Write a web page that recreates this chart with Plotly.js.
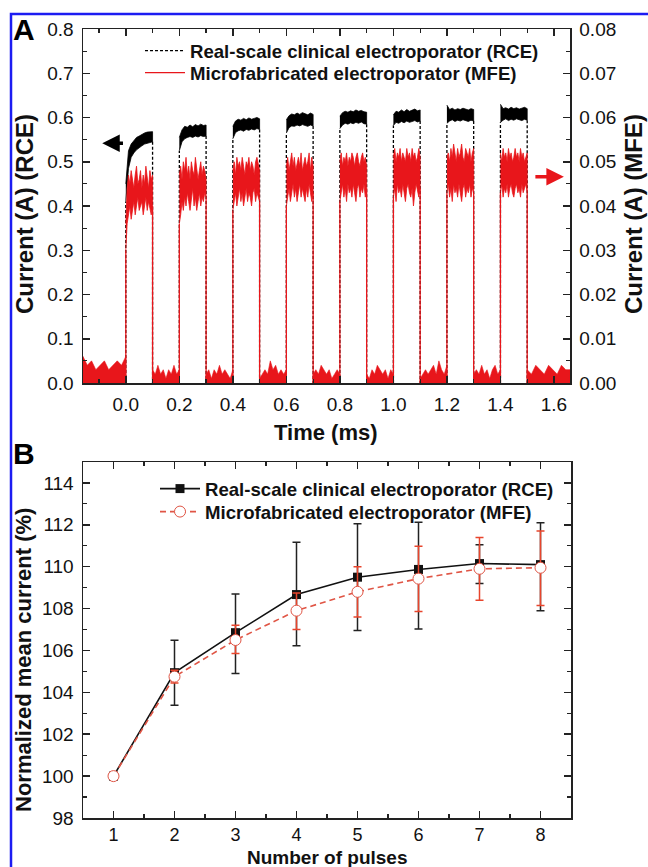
<!DOCTYPE html>
<html><head><meta charset="utf-8">
<script src="https://cdn.plot.ly/plotly-3.0.1.min.js"></script>
<style>html,body{margin:0;padding:0;background:#fff}#chart{width:648px;height:867px}</style>
</head><body><div id="chart"></div>
<script>
// ---------- Panel A : current traces ----------
const pulseStarts = [0, 0.2, 0.4, 0.6, 0.8, 1.0, 1.2, 1.4];   // ms
const pulseWidth = 0.1;                                       // ms
const rceOffsets = [0, 0.01, 0.02, 0.03, 0.04, 0.05, 0.06, 0.07, 0.08, 0.09, 0.1];
const rceHi = [
  [0.45,0.525,0.54,0.548,0.555,0.558,0.562,0.565,0.567,0.568,0.568],
  [0.555,0.572,0.580,0.578,0.583,0.579,0.584,0.581,0.585,0.582,0.583],
  [0.580,0.592,0.596,0.594,0.598,0.595,0.599,0.596,0.598,0.600,0.597],
  [0.595,0.604,0.608,0.606,0.610,0.607,0.611,0.608,0.606,0.610,0.607],
  [0.603,0.611,0.614,0.612,0.615,0.613,0.617,0.614,0.616,0.613,0.612],
  [0.606,0.614,0.612,0.617,0.613,0.618,0.614,0.617,0.619,0.615,0.617],
  [0.628,0.618,0.621,0.617,0.620,0.618,0.621,0.619,0.617,0.620,0.618],
  [0.630,0.620,0.622,0.619,0.623,0.620,0.622,0.619,0.621,0.623,0.620]
];
const rceLo = [
  [0.41,0.485,0.51,0.52,0.527,0.532,0.536,0.54,0.542,0.543,0.545],
  [0.525,0.545,0.552,0.555,0.557,0.555,0.558,0.556,0.559,0.557,0.558],
  [0.552,0.566,0.570,0.572,0.569,0.573,0.571,0.574,0.572,0.575,0.573],
  [0.565,0.577,0.581,0.580,0.583,0.581,0.584,0.582,0.580,0.583,0.581],
  [0.575,0.583,0.587,0.585,0.588,0.586,0.589,0.587,0.590,0.586,0.585],
  [0.582,0.589,0.587,0.591,0.588,0.592,0.589,0.591,0.593,0.590,0.592],
  [0.587,0.592,0.595,0.591,0.594,0.592,0.595,0.593,0.591,0.594,0.592],
  [0.589,0.594,0.597,0.593,0.596,0.594,0.597,0.595,0.593,0.596,0.594]
];
const mfeOffsets = [0,0.005,0.01,0.015,0.02,0.025,0.03,0.035,0.04,0.045,0.05,0.055,0.06,0.065,0.07,0.075,0.08,0.085,0.09,0.095,0.1];
const mfeHi = [
  [0.036,0.044,0.047,0.045,0.048,0.046,0.044,0.047,0.049,0.045,0.046,0.048,0.044,0.047,0.045,0.049,0.046,0.044,0.048,0.046,0.047],
  [0.047,0.049,0.046,0.050,0.048,0.051,0.047,0.049,0.046,0.050,0.048,0.047,0.051,0.049,0.046,0.048,0.050,0.047,0.049,0.048,0.046],
  [0.048,0.050,0.047,0.051,0.049,0.050,0.048,0.051,0.049,0.047,0.050,0.049,0.051,0.048,0.050,0.049,0.047,0.050,0.051,0.049,0.048],
  [0.049,0.051,0.048,0.050,0.052,0.049,0.051,0.048,0.050,0.051,0.049,0.052,0.048,0.050,0.051,0.049,0.050,0.052,0.048,0.051,0.049],
  [0.050,0.052,0.049,0.051,0.050,0.052,0.049,0.051,0.050,0.052,0.051,0.049,0.051,0.052,0.050,0.049,0.051,0.052,0.050,0.051,0.049],
  [0.051,0.053,0.050,0.052,0.051,0.053,0.050,0.052,0.051,0.050,0.053,0.051,0.052,0.050,0.053,0.051,0.052,0.050,0.051,0.053,0.051],
  [0.051,0.052,0.050,0.053,0.051,0.054,0.052,0.050,0.053,0.051,0.052,0.054,0.051,0.050,0.053,0.052,0.051,0.053,0.050,0.052,0.053],
  [0.052,0.050,0.053,0.051,0.052,0.050,0.053,0.051,0.052,0.050,0.051,0.053,0.051,0.052,0.050,0.053,0.051,0.052,0.050,0.051,0.052]
];
const mfeLo = [
  [0.030,0.036,0.038,0.040,0.037,0.039,0.041,0.038,0.040,0.042,0.039,0.040,0.041,0.038,0.040,0.042,0.039,0.041,0.040,0.038,0.040],
  [0.036,0.038,0.041,0.039,0.042,0.040,0.043,0.041,0.039,0.042,0.044,0.040,0.042,0.039,0.041,0.043,0.040,0.042,0.041,0.043,0.042],
  [0.039,0.041,0.043,0.040,0.042,0.044,0.041,0.043,0.040,0.042,0.044,0.041,0.043,0.042,0.040,0.043,0.044,0.041,0.043,0.042,0.041],
  [0.040,0.042,0.044,0.041,0.043,0.045,0.042,0.044,0.041,0.043,0.045,0.042,0.044,0.043,0.041,0.044,0.042,0.045,0.043,0.041,0.043],
  [0.041,0.043,0.045,0.042,0.044,0.041,0.045,0.043,0.044,0.042,0.045,0.043,0.041,0.044,0.045,0.042,0.044,0.043,0.045,0.042,0.044],
  [0.042,0.044,0.041,0.045,0.043,0.044,0.042,0.045,0.043,0.041,0.044,0.045,0.043,0.042,0.044,0.040,0.043,0.045,0.044,0.042,0.044],
  [0.043,0.045,0.042,0.044,0.041,0.045,0.043,0.044,0.042,0.045,0.043,0.041,0.044,0.045,0.042,0.044,0.043,0.045,0.042,0.044,0.043],
  [0.043,0.045,0.042,0.044,0.043,0.045,0.042,0.044,0.045,0.043,0.042,0.044,0.045,0.043,0.044,0.042,0.045,0.043,0.044,0.045,0.043]
];
const gapStarts = [-0.16, 0.1, 0.3, 0.5, 0.7, 0.9, 1.1, 1.3, 1.5];
const gapEnds   = [0, 0.2, 0.4, 0.6, 0.8, 1.0, 1.2, 1.4, 1.66];
const mfeBaseHi = [
  [0.006,0.004,0.005,0.003,0.004,0.005,0.003,0.004,0.005,0.004,0.006],
  [0.003,0.002,0.004,0.002,0.003,0.001,0.003,0.002,0.004,0.002,0.003],
  [0.002,0.003,0.001,0.003,0.002,0.004,0.002,0.003,0.002,0.001,0.003],
  [0.001,0.002,0.003,0.002,0.005,0.003,0.004,0.002,0.003,0.002,0.003],
  [0.002,0.003,0.002,0.004,0.003,0.002,0.003,0.001,0.002,0.003,0.002],
  [0.002,0.001,0.003,0.002,0.004,0.003,0.002,0.003,0.001,0.003,0.002],
  [0.001,0.002,0.003,0.002,0.003,0.004,0.002,0.005,0.003,0.002,0.004],
  [0.002,0.003,0.002,0.004,0.002,0.003,0.001,0.003,0.004,0.002,0.003],
  [0.003,0.002,0.004,0.003,0.002,0.004,0.003,0.002,0.004,0.003,0.003]
];
const rceArrowLevel = 0.542;   // A, left axis
const mfeArrowLevel = 0.0466;  // A, right axis

// ---------- Panel B : normalized mean current ----------
const pulseNumber = [1, 2, 3, 4, 5, 6, 7, 8];
const rceMean = [100, 104.94, 106.85, 108.67, 109.5, 109.87, 110.15, 110.1];
const rceErrPlus = [null, 1.55, 1.85, 2.5, 2.55, 2.25, 0.9, 2.0];
const rceErrMinus = [null, 1.55, 1.95, 2.45, 2.55, 2.85, 0.95, 2.2];
const mfeMean = [100, 104.75, 106.5, 107.9, 108.8, 109.43, 109.9, 109.95];
const mfeErrPlus = [null, 0.3, 0.7, 0.85, 1.2, 1.55, 1.5, 1.75];
const mfeErrMinus = [null, 0.3, 0.65, 0.9, 1.2, 1.57, 1.5, 1.8];

// ---------- builders ----------
function bandPolygons(starts, offsets, hi, lo) {
  const x = [], y = [];
  starts.forEach((s, i) => {
    offsets.forEach((o, k) => { x.push(s + o); y.push(hi[i][k]); });
    for (let k = offsets.length - 1; k >= 0; k--) { x.push(s + offsets[k]); y.push(lo[i][k]); }
    x.push(null); y.push(null);
  });
  return {x, y};
}
function edgeLines(starts, width, lo) {
  const x = [], y = [];
  starts.forEach((s, i) => {
    const l = lo[i];
    x.push(s, s, null, s + width, s + width, null);
    y.push(0, l[0], null, l[l.length - 1], 0, null);
  });
  return {x, y};
}
function baselinePolygons(gs, ge, hi) {
  const x = [], y = [];
  gs.forEach((a, i) => {
    const b = ge[i], n = hi[i].length;
    x.push(a); y.push(0);
    hi[i].forEach((v, k) => { x.push(a + (b - a) * k / (n - 1)); y.push(v); });
    x.push(b); y.push(0); x.push(null); y.push(null);
  });
  return {x, y};
}

const RED = '#e8161b';
const FONT = 'Liberation Sans, Arial, Helvetica, sans-serif';
const rceBand = bandPolygons(pulseStarts, rceOffsets, rceHi, rceLo);
const rceEdge = edgeLines(pulseStarts, pulseWidth, rceLo);
const mfeBand = bandPolygons(pulseStarts, mfeOffsets, mfeHi, mfeLo);
const mfeEdge = edgeLines(pulseStarts, pulseWidth, mfeLo);
const mfeBase = baselinePolygons(gapStarts, gapEnds, mfeBaseHi);

const traces = [
  {x: rceBand.x, y: rceBand.y, xaxis: 'x', yaxis: 'y', mode: 'lines', fill: 'toself',
   fillcolor: '#000', line: {color: '#000', width: 0.8}, showlegend: false, hoverinfo: 'skip'},
  {x: rceEdge.x, y: rceEdge.y, xaxis: 'x', yaxis: 'y', mode: 'lines',
   line: {color: '#000', width: 1.3, dash: '3px,2px'}, name: 'Real-scale clinical electroporator (RCE)',
   legend: 'legend'},
  {x: mfeBase.x, y: mfeBase.y, xaxis: 'x', yaxis: 'y2', mode: 'lines', fill: 'toself',
   fillcolor: RED, line: {color: RED, width: 0.6}, showlegend: false, hoverinfo: 'skip'},
  {x: mfeBand.x, y: mfeBand.y, xaxis: 'x', yaxis: 'y2', mode: 'lines', fill: 'toself',
   fillcolor: RED, line: {color: RED, width: 0.8}, showlegend: false, hoverinfo: 'skip'},
  {x: mfeEdge.x, y: mfeEdge.y, xaxis: 'x', yaxis: 'y2', mode: 'lines',
   line: {color: RED, width: 1.3}, name: 'Microfabricated electroporator (MFE)', legend: 'legend2'},
  {x: pulseNumber, y: rceMean, xaxis: 'x2', yaxis: 'y3', mode: 'lines+markers',
   name: 'Real-scale clinical electroporator (RCE)', legend: 'legend3',
   line: {color: '#111', width: 1.6}, marker: {symbol: 'square', size: 9, color: '#111'},
   error_y: {type: 'data', symmetric: false, array: rceErrPlus, arrayminus: rceErrMinus,
             color: '#222', thickness: 1.5, width: 4}},
  {x: pulseNumber, y: mfeMean, xaxis: 'x2', yaxis: 'y3', mode: 'lines+markers',
   name: 'Microfabricated electroporator (MFE)', legend: 'legend4',
   line: {color: '#e05545', width: 1.6, dash: '6px,4px'},
   marker: {symbol: 'circle', size: 11, color: '#fff', line: {color: '#e05545', width: 1}},
   error_y: {type: 'data', symmetric: false, array: mfeErrPlus, arrayminus: mfeErrMinus,
             color: '#e8452c', thickness: 1.5, width: 4}}
];

const W = 648, H = 867;
const px = v => v / W, py = v => 1 - v / H;
const axisCommon = {
  showline: true, linecolor: '#222', linewidth: 1.5, ticks: 'inside', ticklen: 7, tickwidth: 1.5,
  tickcolor: '#222', showgrid: false, zeroline: false, tickfont: {family: FONT, size: 19, color: '#111'},
  ticklabelstandoff: 4
};
const minorCommon = {ticks: 'inside', ticklen: 4, tickwidth: 1.2, tickcolor: '#222', showgrid: false};
const legendFont = {family: FONT, size: 18.6, weight: 'bold', color: '#111'};
const mkLegend = (xl, yc) => ({x: px(xl), xanchor: 'left', y: py(yc), yanchor: 'middle',
  bgcolor: 'rgba(0,0,0,0)', itemwidth: 40, font: legendFont});

const layout = {
  width: W, height: H, margin: {l: 0, r: 0, t: 0, b: 0},
  paper_bgcolor: '#fff', plot_bgcolor: '#fff', font: {family: FONT, color: '#111'},
  xaxis: Object.assign({}, axisCommon, {domain: [px(83), px(570)], anchor: 'y', range: [-0.16, 1.66],
    tick0: 0, dtick: 0.2, tickformat: '.1f', mirror: 'ticks', minor: Object.assign({dtick: 0.1}, minorCommon)}),
  yaxis: Object.assign({}, axisCommon, {domain: [py(383), py(29)], anchor: 'x', range: [0, 0.8],
    dtick: 0.1, tickformat: '.1f', minor: Object.assign({dtick: 0.05}, minorCommon)}),
  yaxis2: Object.assign({}, axisCommon, {overlaying: 'y', side: 'right', anchor: 'x', range: [0, 0.08],
    dtick: 0.01, tickformat: '.2f', minor: Object.assign({dtick: 0.005}, minorCommon)}),
  xaxis2: Object.assign({}, axisCommon, {domain: [px(83), px(571)], anchor: 'y3', range: [0.5, 8.5],
    dtick: 1, mirror: 'ticks', ticklabelstandoff: 0, tickfont: {family: FONT, size: 18, color: '#111'},
    minor: Object.assign({dtick: 0.5}, minorCommon)}),
  yaxis3: Object.assign({}, axisCommon, {domain: [py(818), py(462)], anchor: 'x2', range: [98, 115],
    tick0: 98, dtick: 2, mirror: 'ticks', minor: Object.assign({dtick: 1}, minorCommon)}),
  legend: mkLegend(140, 51),
  legend2: mkLegend(140, 73),
  legend3: mkLegend(155, 489),
  legend4: mkLegend(155, 512),
  shapes: [
    {type: 'path', xref: 'paper', yref: 'paper',
     path: `M ${px(11)} 0 L ${px(11)} ${py(14)} L 1 ${py(14)}`, line: {color: '#1c1cf2', width: 2.5}}
  ],
  annotations: [
    {text: 'A', xref: 'paper', yref: 'paper', x: px(24), y: py(30), xanchor: 'center', yanchor: 'middle',
     showarrow: false, font: {family: FONT, size: 30, weight: 'bold', color: '#000'}},
    {text: 'B', xref: 'paper', yref: 'paper', x: px(24), y: py(453), xanchor: 'center', yanchor: 'middle',
     showarrow: false, font: {family: FONT, size: 30, weight: 'bold', color: '#000'}},
    {text: 'Time (ms)', xref: 'paper', yref: 'paper', x: px(326), y: py(432), xanchor: 'center',
     yanchor: 'middle', showarrow: false, font: {family: FONT, size: 22, weight: 'bold', color: '#111'}},
    {text: 'Number of pulses', xref: 'paper', yref: 'paper', x: px(327), y: py(857), xanchor: 'center',
     yanchor: 'middle', showarrow: false, font: {family: FONT, size: 19, weight: 'bold', color: '#111'}},
    {text: 'Current (A) (RCE)', xref: 'paper', yref: 'paper', x: px(25), y: py(214), textangle: -90,
     xanchor: 'center', yanchor: 'middle', showarrow: false,
     font: {family: FONT, size: 24, weight: 'bold', color: '#111'}},
    {text: 'Current (A) (MFE)', xref: 'paper', yref: 'paper', x: px(634), y: py(214), textangle: -90,
     xanchor: 'center', yanchor: 'middle', showarrow: false,
     font: {family: FONT, size: 24, weight: 'bold', color: '#111'}},
    {text: 'Normalized mean current (%)', xref: 'paper', yref: 'paper', x: px(23), y: py(660),
     textangle: -90, xanchor: 'center', yanchor: 'middle', showarrow: false,
     font: {family: FONT, size: 22, weight: 'bold', color: '#111'}},
    {text: '', xref: 'x', yref: 'y', x: -0.088, y: rceArrowLevel, axref: 'x', ayref: 'y',
     ax: -0.005, ay: rceArrowLevel, showarrow: true, arrowhead: 2, arrowsize: 1, arrowwidth: 3.5,
     arrowcolor: '#000'},
    {text: '', xref: 'x', yref: 'y2', x: 1.637, y: mfeArrowLevel, axref: 'x', ayref: 'y2',
     ax: 1.525, ay: mfeArrowLevel, showarrow: true, arrowhead: 2, arrowsize: 1, arrowwidth: 3.5,
     arrowcolor: RED}
  ]
};

Plotly.newPlot('chart', traces, layout, {staticPlot: true, displayModeBar: false});
</script>
</body></html>
